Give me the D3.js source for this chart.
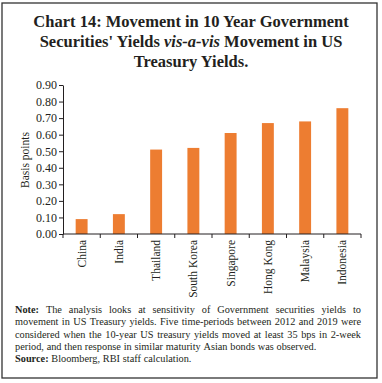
<!DOCTYPE html>
<html><head><meta charset="utf-8">
<script src="https://cdn.jsdelivr.net/npm/d3@7"></script>
<style>
html,body{margin:0;padding:0;background:#fff;}
svg{display:block;}
text{fill:#231f20;}
</style></head>
<body>
<svg id="c" width="382" height="383"></svg>
<script>
const categories = ["China","India","Thailand","South Korea","Singapore","Hong Kong","Malaysia","Indonesia"];
const values = [0.09,0.12,0.51,0.52,0.61,0.67,0.68,0.76];
const yTicks = [0,0.1,0.2,0.3,0.4,0.5,0.6,0.7,0.8,0.9];
const titleLines = ["Chart 14: Movement in 10 Year Government", "Securities' Yields |vis-a-vis| Movement in US", "Treasury Yields."];
const noteLines = [
  "The analysis looks at sensitivity of Government securities yields to",
  "movement in US Treasury yields. Five time-periods between 2012 and 2019 were",
  "considered when the 10-year US treasury yields moved at least 35 bps in 2-week",
  "period, and then response in similar maturity Asian bonds was observed."
];
const sourceText = "Bloomberg, RBI staff calculation.";

const svg = d3.select("#c");
const serif = "'Liberation Serif','DejaVu Serif',serif";
const ink = "#231f20";

// border
svg.append("rect").attr("x",2).attr("y",3).attr("width",375).attr("height",375)
  .attr("fill","none").attr("stroke","#333").attr("stroke-width",1.3);

// title
titleLines.forEach((l,i)=>{
  const t = svg.append("text").attr("x",191).attr("y",27+i*20).attr("text-anchor","middle")
    .attr("font-family",serif).attr("font-size",16.5).attr("font-weight","bold");
  l.split("|").forEach((part,j)=>{
    if(!part) return;
    const ts = t.append("tspan").text(part);
    if(j%2===1) ts.attr("font-style","italic");
  });
});

const x = d3.scaleBand().domain(categories).range([63,361]).paddingInner(0.68).paddingOuter(0.34);
const y = d3.scaleLinear().domain([0,0.9]).range([234,85]);

// bars
svg.append("g").selectAll("rect").data(values).join("rect")
  .attr("x",(d,i)=>x(categories[i])).attr("width",x.bandwidth())
  .attr("y",d=>y(d)).attr("height",d=>y(0)-y(d)).attr("fill","#ED7D31");

// y axis
const ya = svg.append("g").attr("transform","translate(63,0)")
  .call(d3.axisLeft(y).tickValues(yTicks).tickFormat(d3.format(".2f")).tickSize(4).tickSizeOuter(0).tickPadding(2));
ya.select(".domain").attr("stroke",ink).attr("stroke-width",1);
ya.selectAll(".tick line").attr("stroke",ink);
ya.selectAll("text").attr("font-family",serif).attr("font-size",12).attr("fill",ink);

// x axis
const xg = svg.append("g");
xg.append("line").attr("x1",63).attr("x2",361).attr("y1",y(0)).attr("y2",y(0)).attr("stroke",ink);
d3.range(categories.length+1).forEach(i=>{
  const xx = 63 + i*(298/categories.length);
  xg.append("line").attr("x1",xx).attr("x2",xx).attr("y1",y(0)).attr("y2",y(0)+4).attr("stroke",ink);
});
xg.selectAll("text.cat").data(categories).join("text").attr("class","cat")
  .attr("transform",d=>`translate(${x(d)+x.bandwidth()/2+4},${y(0)+6}) rotate(-90)`)
  .attr("text-anchor","end").attr("font-family",serif).attr("font-size",11.5).text(d=>d);

// y label
svg.append("text").attr("transform","translate(29,160) rotate(-90)").attr("text-anchor","middle")
  .attr("font-family",serif).attr("font-size",11.5).text("Basis points");

// note, justified
const noteX0 = 15, noteX1 = 361, noteFs = 10.3;
function justifyLine(words, yy, justify, boldPrefix){
  const g = svg.append("g");
  const items = [];
  if(boldPrefix){ items.push({w:boldPrefix,b:true}); }
  words.forEach(w=>items.push({w:w,b:false}));
  const nodes = items.map(it=>g.append("text").attr("y",yy).attr("font-family",serif)
    .attr("font-size",noteFs).attr("font-weight",it.b?"bold":"normal").text(it.w));
  const widths = nodes.map(n=>n.node().getComputedTextLength());
  const total = d3.sum(widths);
  const normalGap = noteFs*0.27;
  const gap = justify ? (noteX1-noteX0-total)/(items.length-1) : normalGap;
  let cx = noteX0;
  nodes.forEach((n,i)=>{ n.attr("x",cx); cx += widths[i]+gap; });
}
noteLines.forEach((l,i)=>{
  justifyLine(l.split(" "), 313+i*12.3, i<3, i===0?"Note:":null);
});
justifyLine(sourceText.split(" "), 313+4*12.3, false, "Source:");
</script>
</body></html>
